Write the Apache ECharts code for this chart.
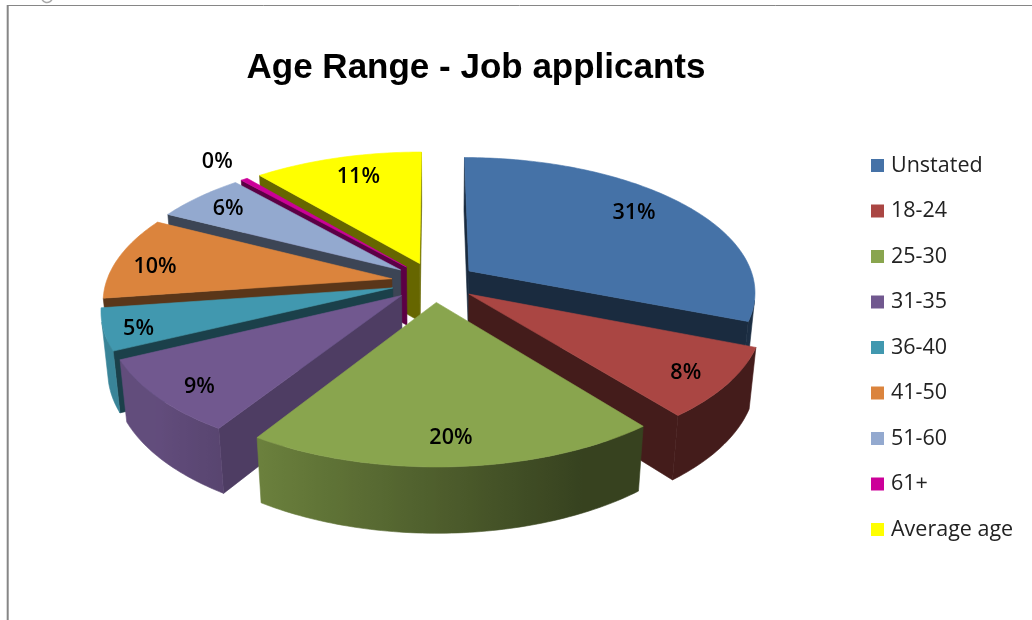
<!DOCTYPE html>
<html><head><meta charset="utf-8">
<style>html,body{margin:0;padding:0;background:#fff}#c{width:1032px;height:620px}</style>
<script src="https://cdn.jsdelivr.net/npm/echarts@6/dist/echarts.min.js"></script>
</head><body><div id="c"></div>
<script>
const categories = ['Unstated','18-24','25-30','31-35','36-40','41-50','51-60','61+','Average age'];
const values = [31, 8.3, 19.7, 8.8, 4.9, 9.85, 5.9, 0.45, 11.1];
const colors = ['#4572A7','#AA4643','#89A54E','#71588F','#4198AF','#DB843D','#93A9CF','#CC0099','#FFFF00'];
const cutShades = [0.38, 0.40, 0.40, 0.69, 0.42, 0.41, 0.41, 0.45, 0.40];
const paintOrder = [1, 6, 7, 6, 5, 4, 3, 2, 1];
const labelNudges = [[-18,0],[0,4],[-1,-1],[2,6],[-10,6],[-4,6],[1,2],[6,0],[10,5]];

const view = {cx:434, cy:282, a:285.6, b:133.3, k:0.149, H:60, m:0.02, explode:0.15};
const total = values.reduce((s,v)=>s+v,0);
const starts = values.map((_,i)=>values.slice(0,i).reduce((s,v)=>s+v,0));

function project(X,Y,Z){
  const w = 1 - view.k*Y + view.m*Z;
  return [view.cx + view.a*X/w, view.cy + (view.b*Y + view.H*Z)/w];
}
function shade(hex,f){
  const n = parseInt(hex.slice(1),16);
  const c = s => Math.round(((n>>s)&255)*f);
  return 'rgb('+c(16)+','+c(8)+','+c(0)+')';
}
function area(p){
  let s=0;
  for(let i=0;i<p.length;i++){const q=p[(i+1)%p.length]; s+=p[i][0]*q[1]-q[0]*p[i][1];}
  return s;
}
function renderSlice(i,api){
  const v = api.value(0);
  const t1 = starts[i]/total*2*Math.PI, t2 = (starts[i]+v)/total*2*Math.PI, mid=(t1+t2)/2;
  const ox = view.explode*Math.sin(mid), oy = -view.explode*Math.cos(mid);
  const pt = (t,r,Z)=>project(ox+r*Math.sin(t), oy-r*Math.cos(t), Z);
  const col = colors[i], children=[];
  const poly = (points,fill)=>children.push({type:'polygon',shape:{points},silent:true,
    style:{fill,stroke:fill,lineWidth:0.6}});
  const apexT=pt(0,0,0), apexB=pt(0,0,1), cut=shade(col,cutShades[i]);
  const w1=[apexT,pt(t1,1,0),pt(t1,1,1),apexB], w2=[pt(t2,1,0),apexT,apexB,pt(t2,1,1)];
  [w1,w2].forEach(w=>{ if(area(w)<0) poly(w,cut); });
  const steps=Math.max(2,Math.ceil((t2-t1)/(Math.PI/180)));
  const arc=[];
  for(let s=0;s<=steps;s++) arc.push(t1+(t2-t1)*s/steps);
  const shown=arc.filter((a,s)=>{
    if(s===steps) return area([pt(arc[s-1],1,0),pt(a,1,0),pt(a,1,1),pt(arc[s-1],1,1)])<0;
    return area([pt(a,1,0),pt(arc[s+1],1,0),pt(arc[s+1],1,1),pt(a,1,1)])<0;
  });
  if(shown.length>1){
    const topEdge=shown.map(t=>pt(t,1,0)), botEdge=shown.map(t=>pt(t,1,1)).reverse();
    const xs=topEdge.map(p=>p[0]);
    const x0=Math.min(...xs), x1=Math.max(...xs), span=Math.max(1,x1-x0);
    const stops=shown.map((t,j)=>({offset:(xs[j]-x0)/span,
      color:shade(col,Math.max(0.4,Math.min(0.87,0.57-0.4*Math.sin(t))))}))
      .sort((p,q)=>p.offset-q.offset);
    poly(topEdge.concat(botEdge),{type:'linear',x:x0,y:0,x2:x1,y2:0,global:true,colorStops:stops});
  }
  poly([apexT].concat(arc.map(t=>pt(t,1,0))),col);
  const pct=v/total*100, outside=pct<1;
  const R=outside?1.38:1.0;
  const lp=project(R*Math.sin(mid), -R*Math.cos(mid), 0);
  children.push({type:'text',silent:true,z2:50,style:{text:Math.round(pct)+'%',
    x:lp[0]+labelNudges[i][0],y:lp[1]+labelNudges[i][1],
    align:'center',verticalAlign:'middle',font:'600 21.5px "Open Sans"',fill:'#000'}});
  return {type:'group',children};
}
const chart = echarts.init(document.getElementById('c'),null,{renderer:'canvas'});
chart.setOption({
  animation:false,
  backgroundColor:'#fff',
  title:{text:'Age Range - Job applicants',left:471,top:46,textAlign:'center',
    textStyle:{fontFamily:'Liberation Sans',fontSize:35,fontWeight:'bold',color:'#000'}},
  legend:{orient:'vertical',left:871,top:154.5,padding:0,itemWidth:13,itemHeight:13,itemGap:23.5,icon:'rect',
    selectedMode:false,
    data:categories.map((name,i)=>({name,itemStyle:{color:colors[i]}})),
    textStyle:{fontFamily:'Open Sans',fontSize:21.5,lineHeight:20,color:'#222',padding:[0,0,0,2]}},
  graphic:[
    {type:'line',shape:{x1:7,y1:5.5,x2:1032,y2:5.5},style:{stroke:'#868686',lineWidth:1},silent:true},
    {type:'line',shape:{x1:7.7,y1:5,x2:7.7,y2:620},style:{stroke:'#868686',lineWidth:2},silent:true},
    {type:'arc',shape:{cx:47,cy:-3,r:5.5,startAngle:0.2,endAngle:2.9},style:{stroke:'#a8a8a8',fill:null,lineWidth:1.5},silent:true}
  ],
  series:categories.map((name,i)=>({
    type:'custom',name,coordinateSystem:'none',z:paintOrder[i]+2,clip:false,
    itemStyle:{color:colors[i]},
    data:[[values[i]]],
    renderItem:(params,api)=>renderSlice(i,api)
  }))
});
</script></body></html>
